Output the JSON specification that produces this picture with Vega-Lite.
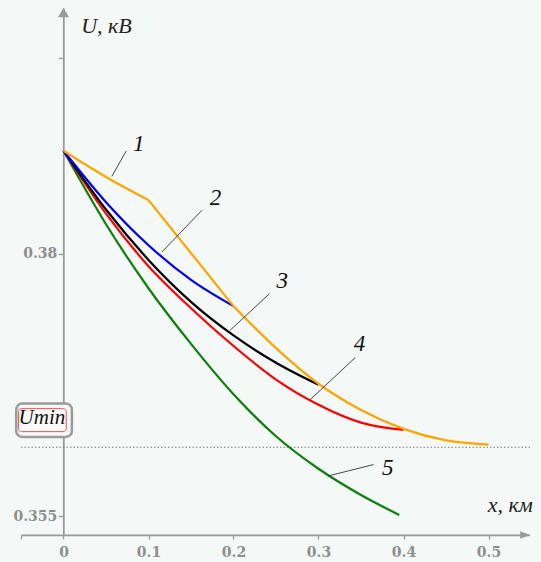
{
  "$schema": "https://vega.github.io/schema/vega-lite/v6.json",
  "width": 508.3,
  "height": 526.9,
  "autosize": "none",
  "padding": {"left": 21, "top": 8, "right": 11.7, "bottom": 27.1},
  "background": "#f4f8f6",
  "config": {"view": {"stroke": null}},
  "datasets": {
    "curves": [
      {"s": "5", "seg": "5", "x": 0, "U": 0.3898},
      {"s": "5", "seg": "5", "x": 0.05, "U": 0.3828},
      {"s": "5", "seg": "5", "x": 0.1, "U": 0.3767},
      {"s": "5", "seg": "5", "x": 0.15, "U": 0.3714},
      {"s": "5", "seg": "5", "x": 0.2, "U": 0.3666},
      {"s": "5", "seg": "5", "x": 0.25, "U": 0.3626},
      {"s": "5", "seg": "5", "x": 0.3, "U": 0.3595},
      {"s": "5", "seg": "5", "x": 0.35, "U": 0.357},
      {"s": "5", "seg": "5", "x": 0.395, "U": 0.3551},
      {"s": "4", "seg": "4", "x": 0, "U": 0.3898},
      {"s": "4", "seg": "4", "x": 0.05, "U": 0.3838},
      {"s": "4", "seg": "4", "x": 0.1, "U": 0.3788},
      {"s": "4", "seg": "4", "x": 0.15, "U": 0.3748},
      {"s": "4", "seg": "4", "x": 0.2, "U": 0.3712},
      {"s": "4", "seg": "4", "x": 0.25, "U": 0.368},
      {"s": "4", "seg": "4", "x": 0.3, "U": 0.3656},
      {"s": "4", "seg": "4", "x": 0.35, "U": 0.3639},
      {"s": "4", "seg": "4", "x": 0.4, "U": 0.3632},
      {"s": "3", "seg": "3", "x": 0, "U": 0.3898},
      {"s": "3", "seg": "3", "x": 0.05, "U": 0.3842},
      {"s": "3", "seg": "3", "x": 0.1, "U": 0.3794},
      {"s": "3", "seg": "3", "x": 0.15, "U": 0.3754},
      {"s": "3", "seg": "3", "x": 0.2, "U": 0.3722},
      {"s": "3", "seg": "3", "x": 0.25, "U": 0.3696},
      {"s": "3", "seg": "3", "x": 0.3, "U": 0.3675},
      {"s": "2", "seg": "2", "x": 0, "U": 0.3898},
      {"s": "2", "seg": "2", "x": 0.05, "U": 0.3849},
      {"s": "2", "seg": "2", "x": 0.1, "U": 0.3808},
      {"s": "2", "seg": "2", "x": 0.15, "U": 0.3775},
      {"s": "2", "seg": "2", "x": 0.2, "U": 0.375},
      {"s": "1", "seg": "1a", "x": 0, "U": 0.3898},
      {"s": "1", "seg": "1a", "x": 0.05, "U": 0.3873},
      {"s": "1", "seg": "1a", "x": 0.1, "U": 0.3851},
      {"s": "1", "seg": "1b", "x": 0.1, "U": 0.3851},
      {"s": "1", "seg": "1b", "x": 0.2, "U": 0.375},
      {"s": "1", "seg": "1c", "x": 0.2, "U": 0.375},
      {"s": "1", "seg": "1c", "x": 0.25, "U": 0.371},
      {"s": "1", "seg": "1c", "x": 0.3, "U": 0.3676},
      {"s": "1", "seg": "1c", "x": 0.35, "U": 0.3651},
      {"s": "1", "seg": "1c", "x": 0.4, "U": 0.3633},
      {"s": "1", "seg": "1c", "x": 0.45, "U": 0.3622},
      {"s": "1", "seg": "1c", "x": 0.5, "U": 0.3618}
    ],
    "labels": [
      {"x": 0.0885, "U": 0.39048, "t": "1"},
      {"x": 0.1788, "U": 0.38533, "t": "2"},
      {"x": 0.2573, "U": 0.37741, "t": "3"},
      {"x": 0.3481, "U": 0.37143, "t": "4"},
      {"x": 0.3814, "U": 0.35962, "t": "5"}
    ],
    "pointers": [
      {"x": 0.0738, "U": 0.38978, "x2": 0.0569, "U2": 0.38736},
      {"x": 0.1628, "U": 0.38413, "x2": 0.1158, "U2": 0.38015},
      {"x": 0.2424, "U": 0.37619, "x2": 0.1961, "U2": 0.3727},
      {"x": 0.3432, "U": 0.37009, "x2": 0.2894, "U2": 0.36602},
      {"x": 0.3647, "U": 0.3599, "x2": 0.3111, "U2": 0.35881}
    ]
  },
  "encoding": {
    "x": {
      "field": "x", "type": "quantitative",
      "scale": {"domain": [-0.05, 0.548], "zero": false, "nice": false},
      "axis": {
        "values": [-0.05, 0, 0.1, 0.2, 0.3, 0.4, 0.5],
        "labelExpr": "datum.value < -0.01 ? '' : format(datum.value, '~g')",
        "title": null, "grid": false,
        "domainColor": "#9a9a9a", "domainWidth": 1.8,
        "tickColor": "#9a9a9a", "tickSize": 4, "tickWidth": 1.3,
        "labelFont": "DejaVu Serif", "labelFontSize": 14, "labelFontWeight": "bold", "labelColor": "#8e8e8e",
        "labelPadding": 7, "labelFlush": false, "labelOverlap": false
      }
    },
    "y": {
      "field": "U", "type": "quantitative",
      "scale": {"domain": [0.3532, 0.4034], "zero": false, "nice": false},
      "axis": {
        "values": [0.355, 0.38, 0.3986],
        "labelExpr": "datum.value == 0.38 ? '0.38' : (datum.value == 0.355 ? '0.355' : '')",
        "offset": -42.3,
        "title": null, "grid": false,
        "domainColor": "#9a9a9a", "domainWidth": 1.8,
        "tickColor": "#9a9a9a", "tickSize": 5, "tickWidth": 1.3,
        "labelFont": "DejaVu Serif", "labelFontSize": 14, "labelFontWeight": "bold", "labelColor": "#8e8e8e",
        "labelPadding": 1.5, "labelFlush": false, "labelOverlap": false
      }
    }
  },
  "layer": [
    {
      "data": {"values": [{"x": -0.05, "x2": 0.551, "U": 0.36155}]},
      "mark": {"type": "rule", "color": "#7a7a7a", "strokeWidth": 1.2, "strokeDash": [1.5, 2]},
      "encoding": {"x2": {"field": "x2"}}
    },
    {
      "data": {"name": "curves"},
      "mark": {"type": "line", "interpolate": "monotone", "strokeWidth": 2.2},
      "encoding": {
        "color": {
          "field": "s", "type": "nominal",
          "scale": {"domain": ["5", "4", "3", "2", "1"], "range": ["#0b800b", "#ff0000", "#000000", "#0000ff", "#ffa500"]},
          "legend": null
        },
        "detail": {"field": "seg"}
      }
    },
    {
      "data": {"name": "pointers"},
      "mark": {"type": "rule", "color": "#333333", "strokeWidth": 0.9},
      "encoding": {"x2": {"field": "x2"}, "y2": {"field": "U2"}}
    },
    {
      "data": {"name": "labels"},
      "mark": {"type": "text", "font": "Liberation Serif", "fontStyle": "italic", "fontSize": 23, "align": "center", "baseline": "middle", "color": "#111111"},
      "encoding": {"text": {"field": "t"}}
    },
    {
      "data": {"values": [{"x": 0.0208, "U": 0.40106, "t": "U, кВ"}]},
      "mark": {"type": "text", "font": "Liberation Serif", "fontStyle": "italic", "fontSize": 22, "align": "left", "baseline": "alphabetic", "color": "#222222"},
      "encoding": {"text": {"field": "t"}}
    },
    {
      "data": {"values": [{"x": 0.5522, "U": 0.35538, "t": "x, км"}]},
      "mark": {"type": "text", "font": "Liberation Serif", "fontStyle": "italic", "fontSize": 22, "align": "right", "baseline": "alphabetic", "color": "#222222"},
      "encoding": {"text": {"field": "t"}}
    },
    {
      "data": {"values": [{"x": -0.0556, "x2": 0.0099, "U": 0.36571, "U2": 0.36253}]},
      "mark": {"type": "rect", "fill": "#f4f8f6", "stroke": "#9b9b9b", "strokeWidth": 2.5, "cornerRadius": 6},
      "encoding": {"x2": {"field": "x2"}, "y2": {"field": "U2"}}
    },
    {
      "data": {"values": [{"x": -0.0529, "x2": 0.0032, "U": 0.36523, "U2": 0.36304}]},
      "mark": {"type": "rect", "fill": "#fbfbfb", "stroke": "#ff4d4d", "strokeWidth": 1, "cornerRadius": 3},
      "encoding": {"x2": {"field": "x2"}, "y2": {"field": "U2"}}
    },
    {
      "data": {"values": [{"x": -0.0254, "U": 0.36431, "t": "Umin"}]},
      "mark": {"type": "text", "font": "Liberation Serif", "fontStyle": "italic", "fontSize": 21, "align": "center", "baseline": "middle", "color": "#111111"},
      "encoding": {"text": {"field": "t"}}
    },
    {
      "data": {"values": [{"x": 0, "U": 0.40297}]},
      "mark": {"type": "point", "shape": "M0,-0.85L1,0.85L-1,0.85Z", "size": 121, "filled": true, "color": "#9a9a9a", "opacity": 1}
    },
    {
      "data": {"values": [{"x": 0.5432, "U": 0.3532}]},
      "mark": {"type": "point", "shape": "M-1,-0.75L1,0L-1,0.75Z", "size": 100, "filled": true, "color": "#9a9a9a", "opacity": 1}
    }
  ]
}
